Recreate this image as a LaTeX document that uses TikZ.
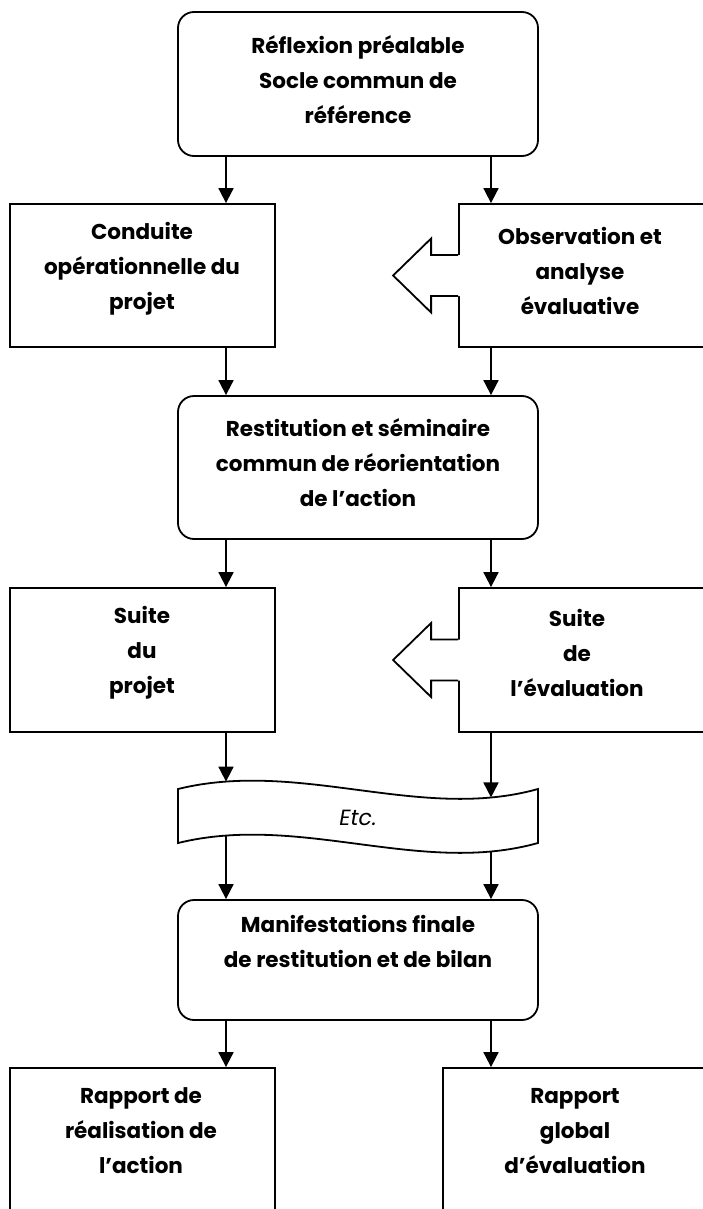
\documentclass[tikz,border=0pt]{standalone}
\usepackage{fontspec}
\setmainfont{Poppins}
\usetikzlibrary{calc,arrows.meta}
\begin{document}
\begin{tikzpicture}[x=1pt,y=-1pt,
  line width=1.8pt,
  box/.style={draw,fill=white,inner sep=0pt},
  rbox/.style={box,rounded corners=16pt},
  txt/.style={font=\bfseries\fontsize{21.5}{35}\selectfont,align=center,inner sep=0pt},
  etctxt/.style={font=\itshape\fontsize{22}{26}\selectfont,inner sep=0pt},
  arr/.style={-{Triangle[length=15pt,width=15pt]}}]
\fill[white] (0,0) rectangle (703,1209);
\useasboundingbox (0,0) rectangle (703,1209);
\coordinate (L) at (226,0);
\coordinate (R) at (491,0);
% boxes
\node[rbox,minimum width=360pt,minimum height=144pt] (b0) at (358,84) {};
\node[box,minimum width=265pt,minimum height=143pt] (b1) at (142.5,275.5) {};
\node[box,minimum width=245pt,minimum height=143pt] (b2) at (581.5,275.5) {};
\node[rbox,minimum width=360pt,minimum height=143pt] (b3) at (358,467.5) {};
\node[box,minimum width=265pt,minimum height=144pt] (b4) at (142.5,660) {};
\node[box,minimum width=245pt,minimum height=144pt] (b5) at (581.5,660) {};
\node[rbox,minimum width=360pt,minimum height=120pt] (b6) at (358,960) {};
\node[box,minimum width=265pt,minimum height=172pt] (b7) at (142.5,1154) {};
\node[box,minimum width=263pt,minimum height=172pt] (b8) at (574.5,1154) {};
% block arrows pointing left
\foreach \b in {b2,b5}{
  \fill[white] ($(\b.west)+(3,-20.5)$) -- ++(-30,0) -- ++(0,-16.5) -- ++(-38,37) -- ++(38,37) -- ++(0,-16.5) -- ++(30,0) -- cycle;
  \draw ($(\b.west)+(0,-20.5)$) -- ++(-27,0) -- ++(0,-16.5) -- ++(-38,37) -- ++(38,37) -- ++(0,-16.5) -- ++(27,0);
}
% banner
\fill[white] (178,789) .. controls (300,759) and (420,822) .. (538,789) -- (538,843) .. controls (420,876) and (300,813) .. (178,843) -- cycle;
\draw (178,789) .. controls (300,759) and (420,822) .. coordinate[pos=0.13] (wtl) coordinate[pos=0.87] (wtr) (538,789)
      -- (538,843) .. controls (420,876) and (300,813) .. coordinate[pos=0.87] (wbl) coordinate[pos=0.13] (wbr) (178,843) -- cycle;
% texts
\node[txt] (t0) at (358,80) {Réflexion préalable\\Socle commun de\\référence};
\node[txt] (t1) at (142,269) {Conduite\\opérationnelle du\\projet};
\node[txt] (t2) at (580,271) {Observation et\\analyse\\évaluative};
\node[txt] (t3) at (358,462.5) {Restitution et séminaire\\commun de réorientation\\de l’action};
\node[txt] (t4) at (142,653) {Suite\\du\\projet};
\node[txt] (t5) at (577,653) {Suite\\de\\l’évaluation};
\node[etctxt] (etc) at (358,818) {Etc.};
\node[txt] (t6) at (358,941) {Manifestations finale\\de restitution et de bilan};
\node[txt] (t7) at (141,1131) {Rapport de\\réalisation de\\l’action};
\node[txt] (t8) at (575,1131) {Rapport\\global\\d’évaluation};
% connectors
\draw[arr] (b0.south -| L) -- (b1.north -| L);
\draw[arr] (b0.south -| R) -- (b2.north -| R);
\draw[arr] (b1.south -| L) -- (b3.north -| L);
\draw[arr] (b2.south -| R) -- (b3.north -| R);
\draw[arr] (b3.south -| L) -- (b4.north -| L);
\draw[arr] (b3.south -| R) -- (b5.north -| R);
\draw[arr] (b4.south -| L) -- (wtl -| L);
\draw[arr] (b5.south -| R) -- (wtr -| R);
\draw[arr] (wbl -| L) -- (b6.north -| L);
\draw[arr] (wbr -| R) -- (b6.north -| R);
\draw[arr] (b6.south -| L) -- (b7.north -| L);
\draw[arr] (b6.south -| R) -- (b8.north -| R);
\end{tikzpicture}
\end{document}
